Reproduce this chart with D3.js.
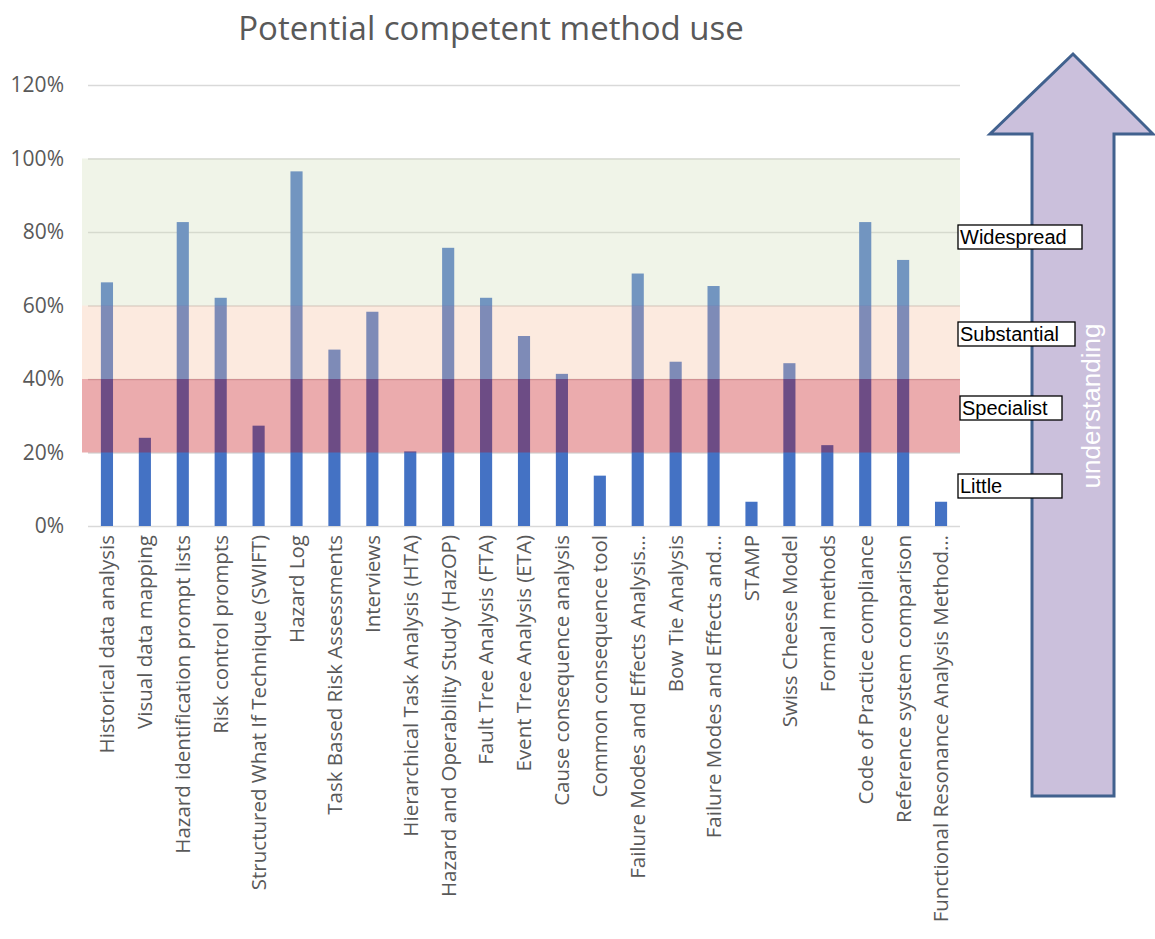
<!DOCTYPE html>
<html>
<head>
<meta charset="utf-8">
<script src="https://cdn.jsdelivr.net/npm/d3@7"></script>
<style>
  body { margin: 0; background: #fff; }
  svg { display: block; }
</style>
</head>
<body>
<div id="chart"></div>
<script>
// chart data
const CATEGORIES = [
  "Historical data analysis",
  "Visual data mapping",
  "Hazard identification prompt lists",
  "Risk control prompts",
  "Structured What If Technique (SWIFT)",
  "Hazard Log",
  "Task Based Risk Assessments",
  "Interviews",
  "Hierarchical Task Analysis (HTA)",
  "Hazard and Operability Study (HazOP)",
  "Fault Tree Analysis (FTA)",
  "Event Tree Analysis (ETA)",
  "Cause consequence analysis",
  "Common consequence tool",
  "Failure Modes and Effects Analysis…",
  "Bow Tie Analysis",
  "Failure Modes and Effects and…",
  "STAMP",
  "Swiss Cheese Model",
  "Formal methods",
  "Code of Practice compliance",
  "Reference system comparison",
  "Functional Resonance Analysis Method…"
];
const VALUES = [0.663, 0.240, 0.827, 0.621, 0.273, 0.965, 0.480, 0.583, 0.203, 0.757, 0.621,
                0.517, 0.414, 0.137, 0.687, 0.447, 0.653, 0.066, 0.443, 0.220, 0.827, 0.724, 0.066];
const Y_TICKS = [0, 0.2, 0.4, 0.6, 0.8, 1.0, 1.2];

// bands of understanding
const BAND_NAMES = ["Little", "Specialist", "Substantial", "Widespread"];
const BAND_LOW = [0, 0.2, 0.4, 0.6];
const BAND_HIGH = [0.2, 0.4, 0.6, 1.0];
const BAND_COLORS = [null, "rgb(194,0,5)", "rgb(247,190,157)", "rgb(210,222,185)"];
const BOX_Y = [486, 408, 334, 237];
const BOX_X = [958, 960, 958, 958];
const BOX_W = [104, 102, 117, 124];

const FRAME_WIDTH = 1155;
const FRAME_HEIGHT = 939;
const PLOT = {left: 88, right: 960, top: 85, bottom: 526};

const svg = d3.select("#chart")
  .append("svg")
    .attr("width", FRAME_WIDTH)
    .attr("height", FRAME_HEIGHT);

const X_SCALE = d3.scaleBand()
  .domain(CATEGORIES)
  .range([PLOT.left, PLOT.right])
  .paddingInner(0.68)
  .paddingOuter(0.34);

const Y_SCALE = d3.scaleLinear()
  .domain([0, 1.2])
  .range([PLOT.bottom, PLOT.top]);

// title
svg.append("text")
  .attr("x", 491)
  .attr("y", 40)
  .attr("text-anchor", "middle")
  .attr("font-family", "Open Sans, sans-serif")
  .attr("font-size", 33)
  .attr("fill", "#595959")
  .text("Potential competent method use");

// gridlines
svg.append("g")
  .attr("transform", "translate(" + PLOT.left + ",0)")
  .call(d3.axisLeft(Y_SCALE).tickValues(Y_TICKS).tickSize(-(PLOT.right - PLOT.left)).tickFormat(""))
  .call(g => g.select(".domain").remove())
  .call(g => g.selectAll("line").attr("stroke", "#d9d9d9").attr("stroke-width", 1.3));

// y tick labels
svg.append("g")
  .attr("transform", "translate(67,0)")
  .call(d3.axisLeft(Y_SCALE).tickValues(Y_TICKS).tickSize(0).tickFormat(d3.format(".0%")))
  .call(g => g.select(".domain").remove())
  .call(g => g.selectAll("text")
    .attr("font-family", "Open Sans, sans-serif")
    .attr("font-size", 21)
    .attr("fill", "#595959"));

// bars
svg.selectAll(".bar")
  .data(VALUES)
  .enter()
  .append("rect")
    .attr("class", "bar")
    .attr("x", (d, i) => X_SCALE(CATEGORIES[i]))
    .attr("y", d => Y_SCALE(d))
    .attr("width", X_SCALE.bandwidth())
    .attr("height", d => PLOT.bottom - Y_SCALE(d))
    .attr("fill", "#4472c4");

// coloured bands over the bars
svg.selectAll(".band")
  .data(BAND_NAMES.slice(1))
  .enter()
  .append("rect")
    .attr("class", "band")
    .attr("x", 82)
    .attr("y", (d, i) => Y_SCALE(BAND_HIGH[i + 1]))
    .attr("width", PLOT.right - 82)
    .attr("height", (d, i) => Y_SCALE(BAND_LOW[i + 1]) - Y_SCALE(BAND_HIGH[i + 1]))
    .attr("fill", (d, i) => BAND_COLORS[i + 1])
    .attr("fill-opacity", 0.33);

// x labels
svg.append("g")
  .attr("transform", "translate(0," + PLOT.bottom + ")")
  .call(d3.axisBottom(X_SCALE).tickSize(0))
  .call(g => g.select(".domain").remove())
  .call(g => g.selectAll("text")
    .attr("font-family", "Open Sans, sans-serif")
    .attr("font-size", 20.5)
    .attr("fill", "#595959")
    .attr("text-anchor", "end")
    .attr("transform", "translate(0,9) rotate(-90)")
    .attr("dy", "0.36em")
    .attr("y", 0)
    .attr("x", 0));

// understanding arrow
svg.append("path")
  .attr("d", "M1073,54 L1153,134 L1114,134 L1114,796 L1032,796 L1032,134 L990,134 Z")
  .attr("fill", "#cbc0dc")
  .attr("stroke", "#41618e")
  .attr("stroke-width", 3)
  .attr("stroke-linejoin", "miter");

svg.append("text")
  .attr("transform", "translate(1100,406) rotate(-90)")
  .attr("text-anchor", "middle")
  .attr("font-family", "Liberation Sans, Arial, sans-serif")
  .attr("font-size", 26)
  .attr("fill", "#ffffff")
  .text("understanding");

// band label boxes
const boxes = svg.selectAll(".box")
  .data(BAND_NAMES)
  .enter()
  .append("g")
    .attr("class", "box")
    .attr("transform", (d, i) => "translate(" + BOX_X[i] + "," + (BOX_Y[i] - 12) + ")");

boxes.append("rect")
  .attr("width", (d, i) => BOX_W[i])
  .attr("height", 24)
  .attr("fill", "#fff")
  .attr("stroke", "#000")
  .attr("stroke-width", 1.3);

boxes.append("text")
  .attr("x", 2)
  .attr("y", 19)
  .attr("font-family", "Liberation Sans, Arial, sans-serif")
  .attr("font-size", 20)
  .attr("fill", "#000")
  .text(d => d);
</script>
</body>
</html>
